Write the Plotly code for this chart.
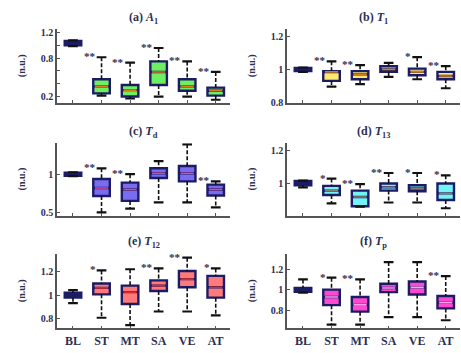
import plotly.graph_objects as go

categories = ["BL", "ST", "MT", "SA", "VE", "AT"]

# panel (a) A1
a_low = [0.99, 0.215, 0.17, 0.20, 0.20, 0.15]
a_q1 = [1.00, 0.25, 0.20, 0.38, 0.29, 0.215]
a_med = [1.03, 0.36, 0.30, 0.585, 0.36, 0.29]
a_q3 = [1.07, 0.47, 0.38, 0.75, 0.47, 0.34]
a_up = [1.08, 0.815, 0.73, 0.96, 0.75, 0.585]
a_sig = ["", "**", "**", "**", "**", "**"]

# panel (b) T1
b_low = [0.985, 0.895, 0.91, 0.955, 0.94, 0.885]
b_q1 = [0.99, 0.93, 0.94, 0.985, 0.965, 0.94]
b_med = [1.0, 0.985, 0.97, 1.0, 0.985, 0.96]
b_q3 = [1.01, 0.99, 0.99, 1.02, 1.005, 0.985]
b_up = [1.012, 1.05, 1.026, 1.04, 1.075, 1.02]
b_sig = ["", "**", "**", "", "*", "**"]

# panel (c) Td
c_low = [0.975, 0.50, 0.55, 0.63, 0.63, 0.565]
c_q1 = [0.98, 0.714, 0.65, 0.95, 0.906, 0.72]
c_med = [1.0, 0.82, 0.80, 1.013, 1.013, 0.80]
c_q3 = [1.02, 0.936, 0.89, 1.077, 1.107, 0.863]
c_up = [1.025, 1.077, 1.0, 1.17, 1.39, 0.906]
c_sig = ["", "**", "**", "", "", "**"]

# panel (d) T13
d_low = [0.977, 0.88, 0.86, 0.885, 0.885, 0.85]
d_q1 = [0.99, 0.93, 0.862, 0.957, 0.953, 0.90]
d_med = [1.0, 0.957, 0.918, 0.977, 0.97, 0.94]
d_q3 = [1.015, 0.986, 0.957, 1.0, 0.99, 1.0]
d_up = [1.018, 1.03, 0.996, 1.064, 1.064, 1.05]
d_sig = ["", "*", "**", "**", "*", "*"]

# panel (e) T12
e_low = [0.934, 0.81, 0.748, 0.863, 0.863, 0.83]
e_q1 = [0.98, 1.008, 0.926, 1.036, 1.068, 0.98]
e_med = [1.0, 1.063, 1.027, 1.082, 1.137, 1.068]
e_q3 = [1.022, 1.10, 1.082, 1.126, 1.205, 1.164]
e_up = [1.044, 1.21, 1.22, 1.227, 1.318, 1.227]
e_sig = ["", "*", "", "**", "**", "*"]

# panel (f) Tp
f_low = [0.97, 0.657, 0.657, 0.73, 0.73, 0.70]
f_q1 = [0.978, 0.848, 0.784, 0.975, 0.952, 0.816]
f_med = [1.0, 0.927, 0.85, 1.016, 1.022, 0.873]
f_q3 = [1.016, 1.0, 0.927, 1.057, 1.08, 0.937]
f_up = [1.10, 1.117, 1.10, 1.27, 1.27, 1.133]
f_sig = ["", "*", "**", "", "", "**"]

titles = ["(a) <i>A</i><sub>1</sub>", "(b) <i>T</i><sub>1</sub>",
          "(c) <i>T</i><sub>d</sub>", "(d) <i>T</i><sub>13</sub>",
          "(e) <i>T</i><sub>12</sub>", "(f) <i>T</i><sub>p</sub>"]

panels = [
    (a_low, a_q1, a_med, a_q3, a_up, a_sig, "#6cf060", "#e07a20", "#101018", [0.10, 1.25],
     [0.2, 0.8, 1.2], ["0.2", "0.8", "1.2"], [0.4, 0.6, 1.0]),
    (b_low, b_q1, b_med, b_q3, b_up, b_sig, "#ffea70", "#d0801c", "#101018", [0.795, 1.245],
     [0.8, 1.0, 1.2], ["0.8", "1", "1.2"], []),
    (c_low, c_q1, c_med, c_q3, c_up, c_sig, "#7a6cf0", "#e048a8", "#101018", [0.457, 1.406],
     [0.5, 1.0], ["0.5", "1"], []),
    (d_low, d_q1, d_med, d_q3, d_up, d_sig, "#70f4f4", "#8a8070", "#3a0a2a", [0.805, 1.245],
     [0.8, 1.0, 1.2], ["0.8", "1", "1.2"], []),
    (e_low, e_q1, e_med, e_q3, e_up, e_sig, "#ff7a7a", "#e02828", "#ff7a7a", [0.72, 1.35],
     [0.8, 1.0, 1.2], ["0.8", "1", "1.2"], []),
    (f_low, f_q1, f_med, f_q3, f_up, f_sig, "#ff48d0", "#ff9cf0", "#3a0a2a", [0.62, 1.35],
     [0.8, 1.0, 1.2], ["0.8", "1", "1.2"], []),
]

W, H = 461, 353
xdoms = [[57 / W, 230 / W], [287 / W, 460 / W]]
ydoms = [[1 - 103 / H, 1 - 28 / H], [1 - 218 / H, 1 - 144 / H], [1 - 333 / H, 1 - 257 / H]]
title_y = [1 - 16 / H, 1 - 133 / H, 1 - 245 / H]

FONT = "Liberation Serif"
TXT = "#2e2e50"
EDGE = "#1c1c66"
BW = 0.58
CAP = 0.17

fig = go.Figure()
layout = dict(width=W, height=H, margin=dict(l=0, r=0, t=0, b=0),
              paper_bgcolor="white", plot_bgcolor="white", showlegend=False)
annotations = []
xs = list(range(len(categories)))

for p, (low, q1, med, q3, up, sig, fill, medc, blfill, yr, tv, tt, minor) in enumerate(panels):
    row, col = p // 2, p % 2
    sfx = "" if p == 0 else str(p + 1)
    xa, ya = "x" + sfx, "y" + sfx
    # whiskers (dashed)
    wx, wy = [], []
    for i in xs:
        wx += [i, i, None, i, i, None]
        wy += [up[i], q3[i], None, q1[i], low[i], None]
    fig.add_trace(go.Scatter(x=wx, y=wy, mode="lines", xaxis=xa, yaxis=ya,
                             line=dict(color="#111111", width=1.6, dash="4px,2px"),
                             hoverinfo="skip"))
    # caps
    cx, cy = [], []
    for i in xs:
        cx += [i - CAP, i + CAP, None, i - CAP, i + CAP, None]
        cy += [up[i], up[i], None, low[i], low[i], None]
    fig.add_trace(go.Scatter(x=cx, y=cy, mode="lines", xaxis=xa, yaxis=ya,
                             line=dict(color="#111111", width=2.2),
                             hoverinfo="skip"))
    # baseline box (BL)
    fig.add_trace(go.Box(x=xs[:1], q1=q1[:1], median=med[:1], q3=q3[:1],
                         lowerfence=q1[:1], upperfence=q3[:1],
                         width=BW, fillcolor=blfill, line=dict(color=EDGE, width=2.4),
                         xaxis=xa, yaxis=ya, hoverinfo="skip", boxpoints=False))
    # other boxes
    fig.add_trace(go.Box(x=xs[1:], q1=q1[1:], median=med[1:], q3=q3[1:],
                         lowerfence=q1[1:], upperfence=q3[1:],
                         width=BW, fillcolor=fill, line=dict(color=EDGE, width=2.4),
                         xaxis=xa, yaxis=ya, hoverinfo="skip", boxpoints=False))
    # median lines coloured
    mx, my = [], []
    for i in xs[1:]:
        h = BW / 2 - 0.06
        mx += [i - h, i + h, None]
        my += [med[i], med[i], None]
    fig.add_trace(go.Scatter(x=mx, y=my, mode="lines", xaxis=xa, yaxis=ya,
                             line=dict(color=medc, width=1.6), hoverinfo="skip"))
    # significance
    for i in xs:
        if sig[i]:
            annotations.append(dict(x=i - CAP + 0.03, y=up[i], xref=xa, yref=ya,
                                    text="<b>" + sig[i] + "</b>", showarrow=False,
                                    xanchor="right", yanchor="middle", yshift=1,
                                    font=dict(family=FONT, size=11, color=TXT)))
    # axes
    xaxis = dict(domain=xdoms[col], anchor=ya, range=[-0.56, 5.5],
                 tickmode="array", tickvals=xs, showticklabels=(row == 2),
                 ticks="inside", ticklen=3, tickcolor="#555555",
                 showline=True, linecolor="#555555", linewidth=1.5,
                 showgrid=False, zeroline=False,
                 tickfont=dict(family=FONT, size=12, color=TXT))
    if row == 2:
        xaxis["ticktext"] = ["<b>" + c + "</b>" for c in categories]
    layout["xaxis" + sfx] = xaxis
    yaxis = dict(domain=ydoms[row], anchor=xa, range=yr,
                 tickmode="array", tickvals=tv, ticktext=["<b>" + t + "</b>" for t in tt],
                 ticks="inside", ticklen=3, tickcolor="#555555",
                 showline=True, linecolor="#555555", linewidth=1.5,
                 showgrid=False, zeroline=False,
                 tickfont=dict(family=FONT, size=10, color=TXT))
    if minor:
        yaxis["minor"] = dict(tickmode="array", tickvals=minor, ticks="inside",
                              ticklen=3, tickcolor="#555555", showgrid=False)
    layout["yaxis" + sfx] = yaxis
    # title
    annotations.append(dict(x=sum(xdoms[col]) / 2, y=title_y[row],
                            xref="paper", yref="paper", text="<b>" + titles[p] + "</b>",
                            showarrow=False, xanchor="center", yanchor="middle",
                            font=dict(family=FONT, size=12, color=TXT)))
    # y axis label
    annotations.append(dict(x=xdoms[col][0] - 35 / W, y=sum(ydoms[row]) / 2,
                            xref="paper", yref="paper", text="<b>(n.u.)</b>",
                            textangle=-90, showarrow=False, xanchor="center",
                            yanchor="middle",
                            font=dict(family=FONT, size=10, color=TXT)))

layout["annotations"] = annotations
fig.update_layout(**layout)
fig.write_html("out.html")
